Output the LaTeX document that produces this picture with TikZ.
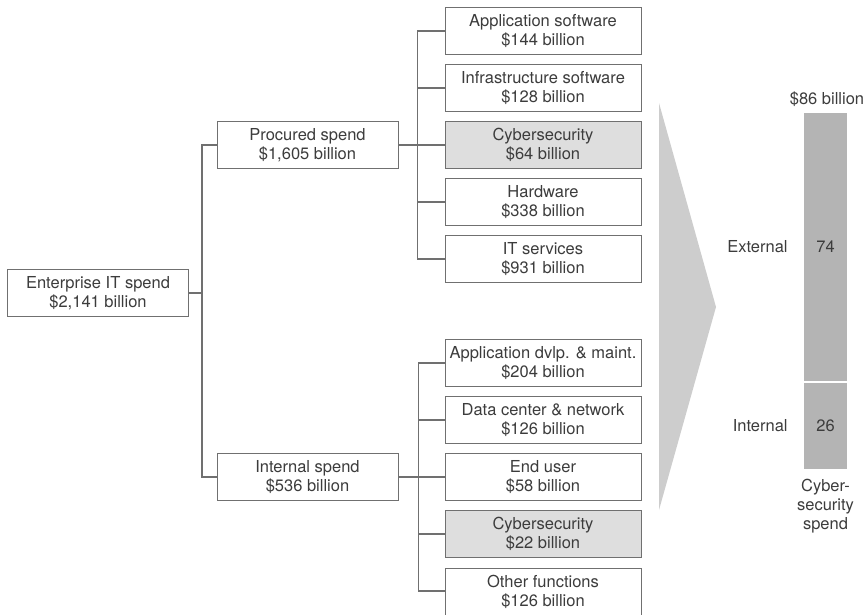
\documentclass[tikz,border=0pt]{standalone}
\usepackage{fontspec}
\setmainfont{TeX Gyre Heros}
\usetikzlibrary{calc}

\definecolor{txtgray}{HTML}{3C3C3C}
\definecolor{linegray}{HTML}{707070}
\definecolor{cyberfill}{HTML}{DEDEDE}
\definecolor{chevfill}{HTML}{CDCDCD}
\definecolor{barfill}{HTML}{B4B4B4}

\tikzset{
    spendbox/.style={draw=linegray, line width=0.9pt, fill=white, text=txtgray,
        minimum width=181pt, minimum height=47pt, inner sep=0pt, align=center,
        font=\fontsize{16.5}{19}\selectfont},
    itembox/.style={spendbox, minimum width=196pt},
    cyberbox/.style={itembox, fill=cyberfill},
    link/.style={draw=linegray, line width=1.3pt},
    lbl/.style={text=txtgray, inner sep=0pt, align=center,
        font=\fontsize{16.5}{19}\selectfont},
    barseg/.style={fill=barfill, draw=none, minimum width=43pt, inner sep=0pt}
}

\begin{document}
\begin{tikzpicture}[x=1pt, y=-1pt]
    \useasboundingbox (0,0) rectangle (868,614);

    \node[spendbox] (ent) at (98,293) {Enterprise IT spend\\\$2,141 billion};
    \node[spendbox] (proc) at (307.5,145) {Procured spend\\\$1,605 billion};
    \node[spendbox] (intl) at (307.5,477) {Internal spend\\\$536 billion};

    \node[itembox] (appsw) at (543,31) {Application software\\\$144 billion};
    \node[itembox] (infsw) at (543,88) {Infrastructure software\\\$128 billion};
    \node[cyberbox] (cybp) at (543,145) {Cybersecurity\\\$64 billion};
    \node[itembox] (hw) at (543,202) {Hardware\\\$338 billion};
    \node[itembox] (itsv) at (543,259) {IT services\\\$931 billion};

    \node[itembox] (appdv) at (543,363) {Application dvlp. \& maint.\\\$204 billion};
    \node[itembox] (dcnet) at (543,420) {Data center \& network\\\$126 billion};
    \node[itembox] (enduser) at (543,477) {End user\\\$58 billion};
    \node[cyberbox] (cybi) at (543,534) {Cybersecurity\\\$22 billion};
    \node[itembox] (other) at (543,592) {Other functions\\\$126 billion};

    \coordinate (j0) at ($(ent.east)+(13,0)$);
    \coordinate (j1) at ($(proc.east)+(19,0)$);
    \coordinate (j2) at ($(intl.east)+(20,0)$);

    \draw[link] (ent.east) -- (j0);
    \draw[link] (j0) |- (proc.west);
    \draw[link] (j0) |- (intl.west);

    \draw[link] (proc.east) -- (j1);
    \foreach \n in {appsw,infsw,cybp,hw,itsv}
        \draw[link] (j1) |- (\n.west);

    \draw[link] (intl.east) -- (j2);
    \foreach \n in {appdv,dcnet,enduser,cybi}
        \draw[link] (j2) |- (\n.west);
    \draw[link] (j2) |- ($(other.west)+(0,-1)$);

    \fill[chevfill] (659,103) -- (716,307) -- (659,510) -- cycle;

    \node[barseg, minimum height=268pt] (ext) at (825.5,247) {};
    \node[barseg, minimum height=86pt] (int) at (825.5,426) {};
    \node[lbl] at (ext) {74};
    \node[lbl] at (int) {26};
    \node[lbl, anchor=south] (total) at ($(ext.north)+(1.5,-6)$) {\$86 billion};
    \node[lbl, anchor=east] (extlbl) at ($(ext.west)+(-16,0)$) {External};
    \node[lbl, anchor=east] (intlbl) at ($(int.west)+(-16,0)$) {Internal};
    \node[lbl, anchor=north] (barlbl) at ($(int.south)+(0,10)$) {Cyber-\\security\\spend};
\end{tikzpicture}
\end{document}
